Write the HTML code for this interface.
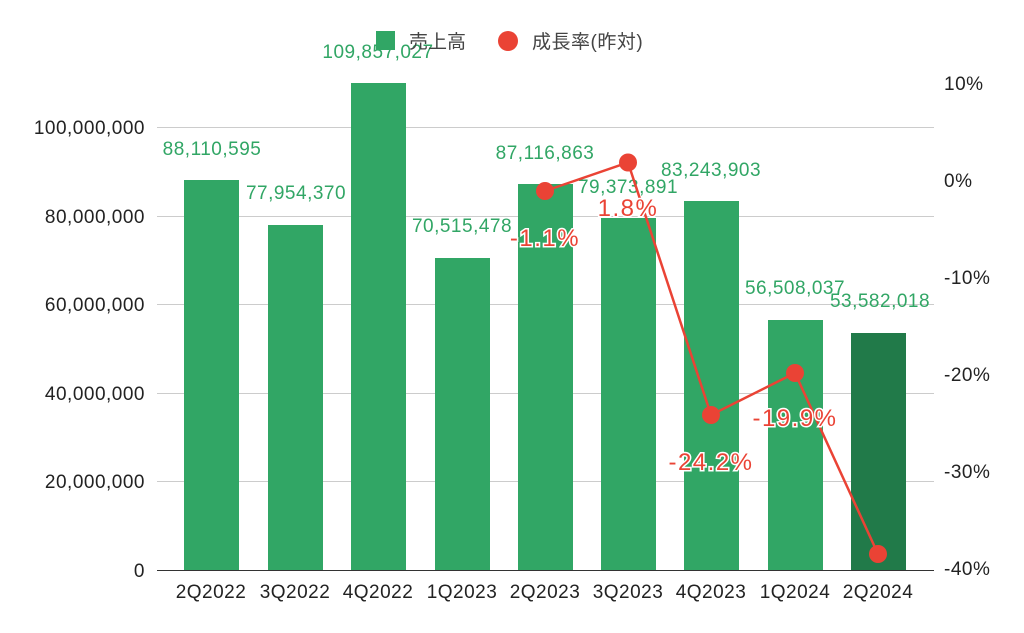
<!DOCTYPE html>
<html><head><meta charset="utf-8"><style>
body{margin:0;background:#fff}
svg{display:block;font-family:"Liberation Sans","Noto Sans CJK JP",sans-serif}
</style></head><body>
<svg width="1024" height="633" viewBox="0 0 1024 633">
<g stroke="#cccccc" stroke-width="1">
<line x1="157" x2="934" y1="127.5" y2="127.5"/><line x1="157" x2="934" y1="216.5" y2="216.5"/>
<line x1="157" x2="934" y1="304.5" y2="304.5"/><line x1="157" x2="934" y1="393.5" y2="393.5"/>
<line x1="157" x2="934" y1="481.5" y2="481.5"/>
</g>
<line x1="157" x2="934" y1="570.5" y2="570.5" stroke="#333" stroke-width="1"/>
<g font-size="19" letter-spacing="0.5" fill="#222" text-anchor="end">
<text x="145" y="577">0</text><text x="145" y="488">20,000,000</text><text x="145" y="400">40,000,000</text>
<text x="145" y="311">60,000,000</text><text x="145" y="223">80,000,000</text><text x="145" y="134">100,000,000</text>
</g>
<g font-size="19" letter-spacing="0.5" fill="#222" text-anchor="start">
<text x="944" y="90">10%</text><text x="944" y="187">0%</text><text x="944" y="284">-10%</text>
<text x="944" y="381">-20%</text><text x="944" y="478">-30%</text><text x="944" y="575">-40%</text>
</g>
<g fill="#31a665">
<rect x="184" y="180" width="55" height="390"/><rect x="268" y="225" width="55" height="345"/>
<rect x="351" y="83" width="55" height="487"/><rect x="435" y="258" width="55" height="312"/>
<rect x="518" y="184" width="55" height="386"/><rect x="601" y="218" width="55" height="352"/>
<rect x="684" y="201" width="55" height="369"/><rect x="768" y="320" width="55" height="250"/>
<rect x="851" y="333" width="55" height="237" fill="#217a49"/>
</g>
<g font-size="19" letter-spacing="0.5" fill="#222" text-anchor="middle">
<text x="211" y="598">2Q2022</text><text x="295" y="598">3Q2022</text><text x="378" y="598">4Q2022</text>
<text x="462" y="598">1Q2023</text><text x="545" y="598">2Q2023</text><text x="628" y="598">3Q2023</text>
<text x="711" y="598">4Q2023</text><text x="795" y="598">1Q2024</text><text x="878" y="598">2Q2024</text>
</g>
<g font-size="19" letter-spacing="0.5" fill="#31a665" text-anchor="middle">
<text x="212" y="155">88,110,595</text><text x="296" y="199">77,954,370</text><text x="378" y="58">109,857,027</text>
<text x="462" y="232">70,515,478</text><text x="545" y="159">87,116,863</text><text x="628" y="193">79,373,891</text>
<text x="711" y="176">83,243,903</text><text x="795" y="294">56,508,037</text><text x="880" y="307">53,582,018</text>
</g>
<polyline points="545,191 628,162.5 711,415 795,373 878,554" fill="none" stroke="#ea4335" stroke-width="2.5"/>
<g fill="#ea4335">
<circle cx="545" cy="191" r="9"/><circle cx="628" cy="162.5" r="9"/><circle cx="711" cy="415" r="9"/>
<circle cx="795" cy="373" r="9"/><circle cx="878" cy="554" r="9"/>
</g>
<g font-size="24" letter-spacing="1.5" fill="#ea4335" text-anchor="middle" stroke="#fff" stroke-width="3" paint-order="stroke">
<text x="545" y="246">-1.1%</text><text x="628" y="216">1.8%</text>
<text x="711" y="470">-24.2%</text><text x="795" y="426">-19.9%</text>
</g>
<rect x="376" y="31" width="19" height="19" fill="#31a665"/>
<text x="409" y="48" font-size="19" fill="#444">売上高</text>
<circle cx="508" cy="41" r="10" fill="#ea4335"/>
<text x="532" y="48" font-size="19" letter-spacing="0.5" fill="#444">成長率(昨対)</text>
</svg>
</body></html>
